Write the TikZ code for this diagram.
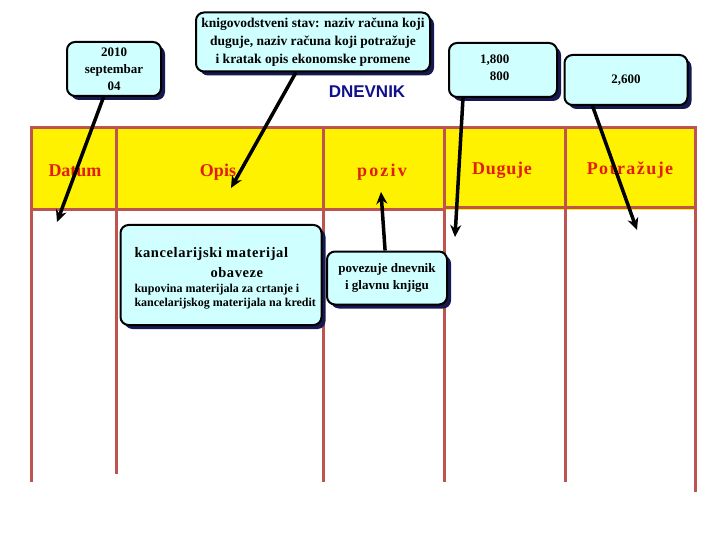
\documentclass[tikz,border=0pt]{standalone}
\usepackage{fontspec}
\setmainfont{Liberation Serif}
\newfontfamily\sansf{Liberation Sans}
\usetikzlibrary{shadows,arrows.meta,calc}
\definecolor{boxfill}{RGB}{208,255,255}
\definecolor{shadowc}{RGB}{22,24,80}
\definecolor{gridc}{RGB}{190,84,80}
\definecolor{hdrtext}{RGB}{226,30,6}
\definecolor{navyt}{RGB}{16,16,140}
\tikzset{
  callout/.style={draw=black, line width=2pt, fill=boxfill, rounded corners=8pt,
    drop shadow={fill=shadowc, opacity=1, shadow xshift=4pt, shadow yshift=-4pt},
    inner sep=0pt, align=center},
  gridline/.style={draw=gridc, line width=3pt},
  hdr/.style={text=hdrtext, font=\bfseries\fontsize{18}{20}\selectfont},
  arr/.style={draw=black, line width=3.5pt, -{Stealth[length=12pt,width=11pt]}}
}
\begin{document}
\begin{tikzpicture}[x=1pt,y=-1pt]
\useasboundingbox (0,0) rectangle (720,540);
% header
\fill[yellow] (31,128) rectangle (695,210);
\draw[gridline] (29.5,128) -- (696.5,128);
\draw[gridline] (29.5,210) -- (444,210);
\draw[gridline] (444,208) -- (696.5,208);
\draw[gridline] (31,128) -- (31,482);
\draw[gridline] (116,128) -- (116,474);
\draw[gridline] (323,128) -- (323,482);
\draw[gridline] (444,128) -- (444,482);
\draw[gridline] (565,128) -- (565,482);
\draw[gridline] (695,128) -- (695,492);
\node[hdr] (datum) at (75,171) {Datum};
\node[hdr] (opis) at (218,172) {Opis};
\node[hdr] (poziv) at (382,172) {\addfontfeature{LetterSpace=12}poziv};
\node[hdr] (duguje) at (502,170) {\addfontfeature{LetterSpace=4}Duguje};
\node[hdr] (potr) at (630,170) {\addfontfeature{LetterSpace=8}Potražuje};
% DNEVNIK
\node[text=navyt, font=\sansf\bfseries\fontsize{17}{19}\selectfont] (dnevnik) at (367,92) {DNEVNIK};
% callouts
\node[callout, minimum width=94pt, minimum height=54pt, font=\bfseries\fontsize{13}{17}\selectfont] (b1) at (114,69) {2010\\septembar\\04};
\node[callout, minimum width=234pt, minimum height=59pt, font=\bfseries\fontsize{13.5}{18}\selectfont] (b2) at (313,42) {knigovodstveni stav: naziv računa koji\\duguje, naziv računa koji potražuje\\i kratak opis ekonomske promene};
\node[callout, minimum width=108pt, minimum height=54pt] (b3) at (503,70) {};
\node[align=right, font=\bfseries\fontsize{13}{17}\selectfont, anchor=east] (b3t) at (513,68) {1,800\\800};
\node[callout, minimum width=123pt, minimum height=50pt, font=\bfseries\fontsize{13}{17}\selectfont] (b4) at (626,80) {2,600};
\node[callout, minimum width=201pt, minimum height=100pt] (b5) at (221,275) {};
\node[text=white!88!cyan, font=\fontsize{13}{15}\selectfont, anchor=west] (t0) at (132,236) {materijal za crtanje};
\node[font=\bfseries\fontsize{14.5}{16}\selectfont, anchor=west] (t1) at (131,254) {\addfontfeature{LetterSpace=4}kancelarijski materijal};
\node[font=\bfseries\fontsize{14.5}{16}\selectfont, anchor=west] (t2) at (207,273) {\addfontfeature{LetterSpace=4}obaveze};
\node[font=\bfseries\fontsize{12}{13}\selectfont, anchor=west] (t3) at (131,290) {kupovina materijala za crtanje i};
\node[font=\bfseries\fontsize{12}{13}\selectfont, anchor=west] (t4) at (131,304) {kancelarijskog materijala na kredit};
\node[callout, minimum width=120pt, minimum height=53pt, font=\bfseries\fontsize{13}{17}\selectfont] (b6) at (387,278) {povezuje dnevnik\\i glavnu knjigu};
% arrow targets
\coordinate (a1) at (57,222);
\coordinate (a2) at (231,188);
\coordinate (a3) at (381,192);
\coordinate (a4) at (455,237);
\coordinate (a5) at (637,230);
\draw[arr] (b1) -- (a1);
\draw[arr] (b2) -- (a2);
\draw[arr] (b6) -- (a3);
\draw[arr] ($(b3.south west)+(15,0)$) -- (a4);
\draw[arr] ($(b4.south west)+(29,0)$) -- (a5);
\end{tikzpicture}
\end{document}
